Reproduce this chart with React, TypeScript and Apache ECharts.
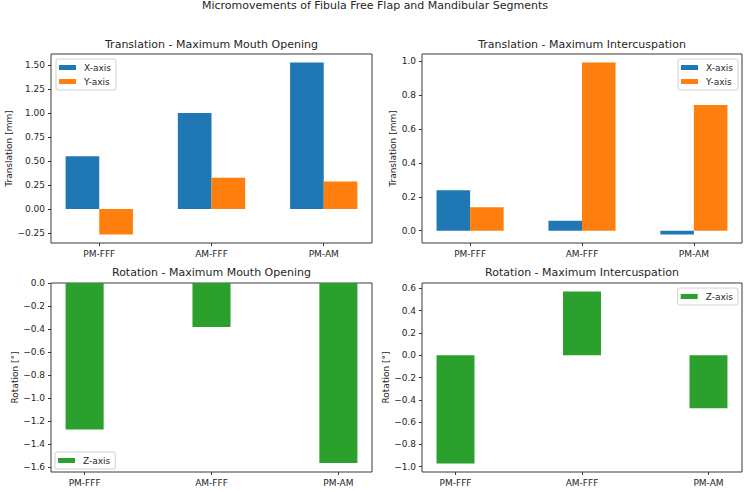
import React, { useEffect, useRef } from "react";
import * as echarts from "echarts";

const categories = ["PM-FFF", "AM-FFF", "PM-AM"];
const transOpenX = [0.551, 1.001, 1.524];
const transOpenY = [-0.263, 0.326, 0.288];
const transInterX = [0.238, 0.059, -0.022];
const transInterY = [0.138, 0.992, 0.741];
const rotOpenZ = [-1.271, -0.381, -1.562];
const rotInterZ = [-0.971, 0.572, -0.476];

const ticksTransOpen = [-0.25, 0, 0.25, 0.5, 0.75, 1.0, 1.25, 1.5];
const ticksTransInter = [0, 0.2, 0.4, 0.6, 0.8, 1.0];
const ticksRotOpen = [-1.6, -1.4, -1.2, -1.0, -0.8, -0.6, -0.4, -0.2, 0];
const ticksRotInter = [-1.0, -0.8, -0.6, -0.4, -0.2, 0, 0.2, 0.4, 0.6];

const BLUE = "#1f77b4";
const ORANGE = "#ff7f0e";
const GREEN = "#2ca02c";
const FONT = "DejaVu Sans";
const TXT = "#262626";
const AX = "#3a3a3a";

function yRange(vals: number[]) {
  const lo = Math.min(0, ...vals);
  const hi = Math.max(0, ...vals);
  const m = (hi - lo) * 0.05;
  return { min: lo === 0 ? 0 : lo - m, max: hi === 0 ? 0 : hi + m };
}

function fmt(v: number, d: number) {
  const s = Math.abs(v) < 1e-9 ? (0).toFixed(d) : v.toFixed(d);
  return s.replace("-", "\u2212");
}

function makeBar(name: string, values: number[], color: string, idx: number, offset: number, width: number) {
  return {
    type: "custom",
    name,
    xAxisIndex: idx,
    yAxisIndex: idx,
    itemStyle: { color },
    encode: { x: 0, y: 1 },
    data: values.map((v, i) => [i, v]),
    renderItem: (_p: any, api: any) => {
      const i = api.value(0);
      const v = api.value(1);
      const p0 = api.coord([i + offset, 0]);
      const p1 = api.coord([i + offset + width, v]);
      return {
        type: "rect",
        shape: {
          x: Math.min(p0[0], p1[0]),
          y: Math.min(p0[1], p1[1]),
          width: Math.abs(p1[0] - p0[0]),
          height: Math.abs(p1[1] - p0[1]),
        },
        style: { fill: color },
      };
    },
  };
}

function xAxisDef(idx: number, grouped: boolean) {
  const half = grouped ? 0.3 : 0.15;
  const lo = -half;
  const hi = categories.length - 1 + half;
  const m = (hi - lo) * 0.05;
  return {
    type: "value",
    gridIndex: idx,
    min: lo - m,
    max: hi + m,
    splitLine: { show: false },
    axisLine: { show: false, onZero: false },
    axisTick: {
      show: true,
      length: 3,
      customValues: categories.map((_, i) => i),
      lineStyle: { color: AX },
    },
    axisLabel: {
      customValues: categories.map((_, i) => i),
      formatter: (v: number) => categories[Math.round(v)],
      fontFamily: FONT,
      fontSize: 9,
      color: TXT,
      margin: 6,
    },
  };
}

function yAxisDef(idx: number, vals: number[], ticks: number[], dec: number, name: string, gap: number) {
  const r = yRange(vals);
  return {
    type: "value",
    gridIndex: idx,
    min: r.min,
    max: r.max,
    name,
    nameLocation: "middle",
    nameGap: gap,
    nameTextStyle: { fontFamily: FONT, fontSize: 9, color: TXT },
    splitLine: { show: false },
    axisLine: { show: false, onZero: false },
    axisTick: { show: true, length: 3, customValues: ticks, lineStyle: { color: AX } },
    axisLabel: {
      customValues: ticks,
      formatter: (v: number) => fmt(v, dec),
      fontFamily: FONT,
      fontSize: 9,
      color: TXT,
      margin: 6,
    },
  };
}

function legendDef(names: string[], pos: any) {
  return {
    data: names,
    orient: "vertical",
    ...pos,
    icon: "rect",
    itemWidth: 17,
    itemHeight: 5,
    itemGap: 3,
    padding: [3, 5, 3, 3],
    borderColor: "#d0d0d0",
    borderWidth: 1,
    borderRadius: 2,
    backgroundColor: "#fff",
    selectedMode: false,
    textStyle: { fontFamily: FONT, fontSize: 9, color: TXT, lineHeight: 11, padding: [0, 0, 0, 3] },
  };
}

function titleDef(text: string, cx: number, top: number, size: number) {
  return {
    text,
    left: cx,
    top,
    textAlign: "center",
    padding: 0,
    textStyle: { fontFamily: FONT, fontSize: size, fontWeight: "normal", color: TXT },
  };
}

export default function App() {
  const ref = useRef<HTMLDivElement>(null);
  useEffect(() => {
    if (!ref.current) return;
    const chart = echarts.init(ref.current, null, { renderer: "svg" });
    const grids = [
      { left: 51, top: 54, width: 321, height: 189 },
      { left: 422, top: 54, width: 320, height: 189 },
      { left: 51, top: 283, width: 321, height: 189 },
      { left: 422, top: 283, width: 320, height: 189 },
    ].map((g) => ({ ...g, show: true, borderColor: AX, borderWidth: 1, backgroundColor: "transparent" }));

    const option: any = {
      animation: false,
      backgroundColor: "#fff",
      title: [
        titleDef("Micromovements of Fibula Free Flap and Mandibular Segments", 375, 0, 11),
        titleDef("Translation - Maximum Mouth Opening", 211.5, 39, 11),
        titleDef("Translation - Maximum Intercuspation", 582, 39, 11),
        titleDef("Rotation - Maximum Mouth Opening", 211.5, 267, 11),
        titleDef("Rotation - Maximum Intercuspation", 582, 267, 11),
      ],
      grid: grids,
      xAxis: [xAxisDef(0, true), xAxisDef(1, true), xAxisDef(2, false), xAxisDef(3, false)],
      yAxis: [
        yAxisDef(0, [...transOpenX, ...transOpenY], ticksTransOpen, 2, "Translation [mm]", 34),
        yAxisDef(1, [...transInterX, ...transInterY], ticksTransInter, 1, "Translation [mm]", 25),
        yAxisDef(2, rotOpenZ, ticksRotOpen, 1, "Rotation [°]", 29),
        yAxisDef(3, rotInterZ, ticksRotInter, 1, "Rotation [°]", 29),
      ],
      legend: [
        legendDef(["X-axis", "Y-axis"], { left: 56, top: 59 }),
        legendDef(["X-axis", "Y-axis"], { right: 9, top: 59 }),
        legendDef(["Z-axis"], { left: 55, top: 452 }),
        legendDef(["Z-axis"], { right: 9, top: 288 }),
      ],
      series: [
        makeBar("X-axis", transOpenX, BLUE, 0, -0.3, 0.3),
        makeBar("Y-axis", transOpenY, ORANGE, 0, 0, 0.3),
        makeBar("X-axis", transInterX, BLUE, 1, -0.3, 0.3),
        makeBar("Y-axis", transInterY, ORANGE, 1, 0, 0.3),
        makeBar("Z-axis", rotOpenZ, GREEN, 2, -0.15, 0.3),
        makeBar("Z-axis", rotInterZ, GREEN, 3, -0.15, 0.3),
      ],
    };
    chart.setOption(option);
    return () => chart.dispose();
  }, []);
  return (
    <div
      ref={ref}
      style={{ position: "fixed", left: 0, top: 0, width: 747, height: 492, background: "#fff" }}
    />
  );
}
